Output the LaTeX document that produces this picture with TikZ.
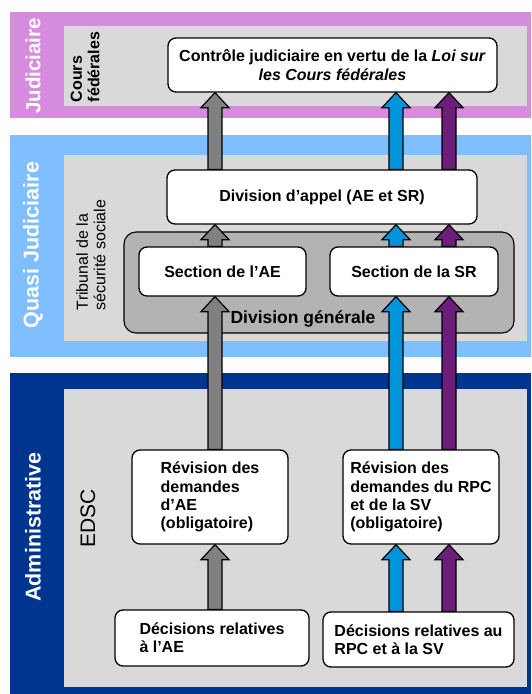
\documentclass[tikz,border=0pt]{standalone}
\usepackage{fontspec}
\setmainfont{Liberation Sans}
\usetikzlibrary{calc, positioning}
\definecolor{judpink}{RGB}{213,139,222}
\definecolor{quasiblue}{RGB}{128,191,255}
\definecolor{adminnavy}{RGB}{0,53,143}
\definecolor{panegray}{RGB}{217,217,217}
\definecolor{divgray}{RGB}{179,179,179}
\definecolor{arrgray}{RGB}{128,128,128}
\definecolor{arrblue}{RGB}{0,148,218}
\definecolor{arrpurple}{RGB}{107,31,122}
\tikzstyle{box} = [rectangle, rounded corners=8pt, draw=black, line width=1.3pt, fill=white, font=\fontsize{16}{18.3}\selectfont\bfseries, inner sep=3pt]
\tikzstyle{bandlabel} = [rotate=90, text=white, font=\fontsize{21.5}{24}\selectfont\bfseries]
\tikzstyle{sidelabel} = [rotate=90, align=left, font=\fontsize{16}{17.5}\selectfont]
\tikzstyle{fatarrow} = [draw=black, line width=1.2pt, line join=miter, to path={let \p1=(\tikztostart), \p2=(\tikztotarget) in (\x1-7pt,\y1) -- (\x1-7pt,\y2-15pt) -- (\x1-14pt,\y2-15pt) -- (\x1,\y2) -- (\x1+14pt,\y2-15pt) -- (\x1+7pt,\y2-15pt) -- (\x1+7pt,\y1) -- cycle}]

\begin{document}
\begin{tikzpicture}[x=1pt, y=-1pt, node distance=190pt]
        \useasboundingbox (0,0) rectangle (531,694);
        % Bands
        \fill[judpink] (10,12) rectangle (531,118);
        \fill[panegray] (64,26) rectangle (527,106);
        \fill[quasiblue] (10,135) rectangle (531,357);
        \fill[panegray] (64,155) rectangle (527,341);
        \fill[adminnavy] (10,373) rectangle (531,694);
        \fill[panegray] (64,389) rectangle (527,687);
        \node (jud) [bandlabel, font=\fontsize{20.5}{24}\selectfont\bfseries] at (33,66) {Judiciaire};
        \node (quasi) [bandlabel] at (33,245) {Quasi Judiciaire};
        \node (admin) [bandlabel] at (33,527) {Administrative};
        \node (cours) [sidelabel, font=\fontsize{16}{17.5}\selectfont\bfseries] at (85,67) {Cours\\fédérales};
        \node (tss) [sidelabel] at (91,255) {Tribunal de la\\sécurité sociale};
        \node (edsc) [sidelabel, font=\fontsize{21}{24}\selectfont] at (88,518) {EDSC};

        % Judiciaire
        \node (ctrl) [box, minimum width=329pt, minimum height=54pt, align=center] at (332.5,65) {Contrôle judiciaire en vertu de la \textit{Loi sur}\\\textit{les Cours fédérales}};

        % Quasi judiciaire
        \node (appel) [box, minimum width=310pt, minimum height=54pt] at (322,197) {Division d’appel (AE et SR)};
        \node (divgen) [rectangle, rounded corners=12pt, draw=black, line width=1.1pt, fill=divgray, minimum width=390pt, minimum height=101pt] at (319,282.5) {};
        \node (divlabel) [font=\fontsize{17.5}{20}\selectfont\bfseries] at (303,319) {Division générale};
        \node (secAE) [box, minimum width=167pt, minimum height=49pt] at (222.5,271.5) {Section de l’AE};
        \node (secSR) [box, minimum width=168pt, minimum height=49pt, right of=secAE, xshift=1.5pt] {Section de la SR};

        % Administrative
        \node (revAE) [box, minimum width=156pt, minimum height=94pt, align=left] at (210,497) {Révision des\\demandes\\d’AE\\(obligatoire)};
        \node (revRPC) [box, minimum width=156pt, minimum height=94pt, align=left, right of=revAE, xshift=21pt] {Révision des\\demandes du RPC\\et de la SV\\(obligatoire)};
        \node (decAE) [box, minimum width=194pt, minimum height=56pt, align=left] at (212,638) {Décisions relatives\\à l’AE};
        \node (decRPC) [box, minimum width=191pt, minimum height=55pt, align=left, right of=decAE, xshift=16.5pt, yshift=-1.5pt] {Décisions relatives au\\RPC et à la SV};

        % Arrows
        \coordinate (xg) at (215,0);
        \coordinate (xb) at (396,0);
        \coordinate (xp) at (449,0);
        \draw [fatarrow, fill=arrgray] (decAE.north -| xg) to (revAE.south -| xg);
        \draw [fatarrow, fill=arrgray] (revAE.north -| xg) to (secAE.south -| xg);
        \draw [fatarrow, fill=arrgray] (secAE.north -| xg) to (appel.south -| xg);
        \draw [fatarrow, fill=arrgray] (appel.north -| xg) to (ctrl.south -| xg);
        \draw [fatarrow, fill=arrblue] (decRPC.north -| xb) to (revRPC.south -| xb);
        \draw [fatarrow, fill=arrblue] (revRPC.north -| xb) to (secSR.south -| xb);
        \draw [fatarrow, fill=arrblue] (secSR.north -| xb) to (appel.south -| xb);
        \draw [fatarrow, fill=arrblue] (appel.north -| xb) to (ctrl.south -| xb);
        \draw [fatarrow, fill=arrpurple] (decRPC.north -| xp) to (revRPC.south -| xp);
        \draw [fatarrow, fill=arrpurple] (revRPC.north -| xp) to (secSR.south -| xp);
        \draw [fatarrow, fill=arrpurple] (secSR.north -| xp) to (appel.south -| xp);
        \draw [fatarrow, fill=arrpurple] (appel.north -| xp) to (ctrl.south -| xp);
    \end{tikzpicture}
\end{document}
